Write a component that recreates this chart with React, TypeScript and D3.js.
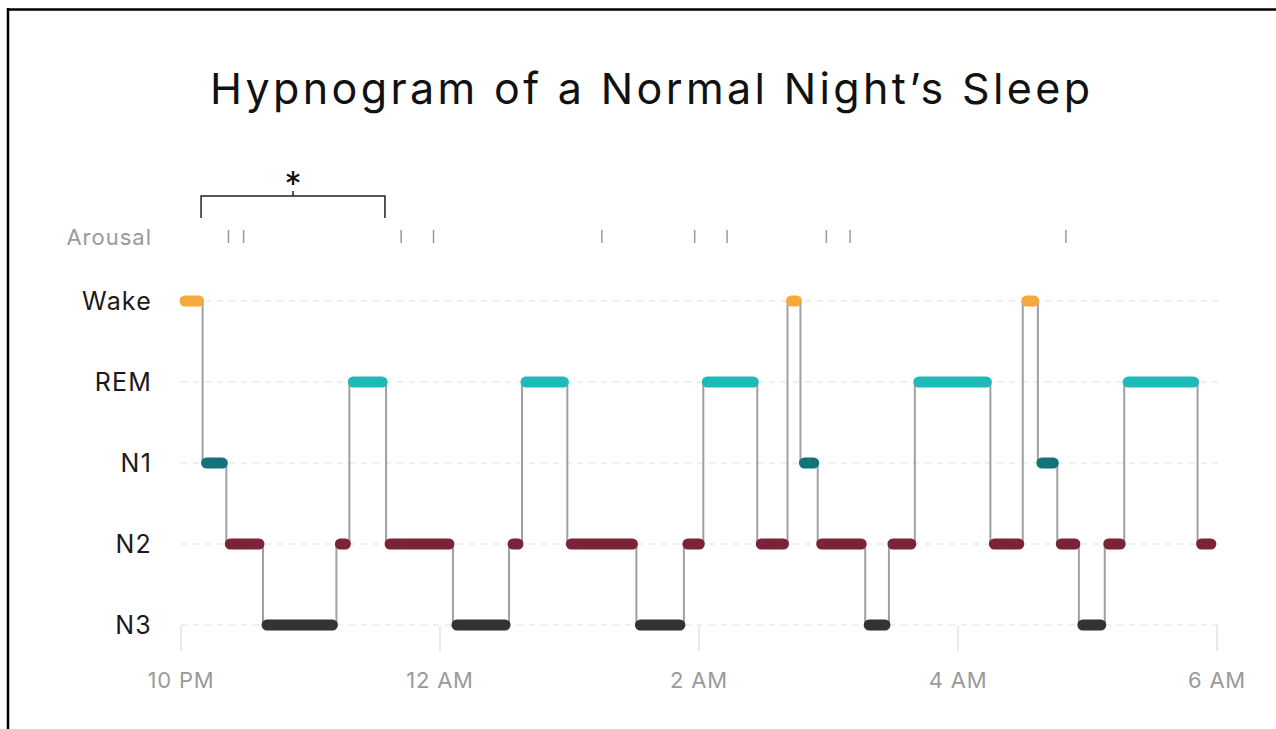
import React from "react"
import * as d3 from "d3"

// sleep stages, top to bottom
const stageNames = ["Wake", "REM", "N1", "N2", "N3"]
const stageColors = ["#F5A93B", "#1DBAB8", "#13737B", "#7B2339", "#333333"]

// hypnogram: stage of each segment and its start (minutes after 10 PM)
const segStages = ["Wake", "N1", "N2", "N3", "N2", "REM", "N2", "N3", "N2", "REM",
    "N2", "N3", "N2", "REM", "N2", "Wake", "N1", "N2", "N3", "N2",
    "REM", "N2", "Wake", "N1", "N2", "N3", "N2", "REM", "N2"]
const segStarts = [0, 10, 21, 38, 72, 78, 95, 126, 152, 158,
    179, 211, 233, 242, 267, 281, 287, 295, 317, 328,
    340, 375, 390, 397, 406, 416, 428, 437, 471]
const sleepEnd = 479

// arousal marks (minutes after 10 PM)
const arousals = [22, 29, 102, 117, 195, 238, 253, 299, 310, 410]

// bracket over the first cycle
const bracket = [9.3, 94.5]

const nightStart = new Date(2024, 0, 1, 22, 0)
const nightEnd = new Date(2024, 0, 2, 6, 0)
const atMin = (m: number) => new Date(nightStart.getTime() + m * 60000)

const W = 1276
const H = 729
const font = "Inter, Lato, 'DejaVu Sans', sans-serif"

const App = () => {
    const x = d3.scaleTime().domain([nightStart, nightEnd]).range([181, 1217])
    const y = d3.scalePoint<string>().domain(stageNames).range([301, 625])
    const color = d3.scaleOrdinal<string, string>().domain(stageNames).range(stageColors)
    const ticks = x.ticks(d3.timeHour.every(2) as any)
    const fmt = d3.timeFormat("%-I %p")

    const segs = segStages.map((s, i) => ({
        stage: s,
        x0: x(atMin(segStarts[i])),
        x1: x(atMin(i + 1 < segStarts.length ? segStarts[i + 1] : sleepEnd)),
    }))

    const bx0 = x(atMin(bracket[0]))
    const bx1 = x(atMin(bracket[1]))
    const bmid = (bx0 + bx1) / 2

    return (
        <svg width={W} height={H} style={{position: "absolute", left: 0, top: 0, background: "#fff"}}
             fontFamily={font}>
            <line x1={8} x2={W} y1={9.5} y2={9.5} stroke="#000" strokeWidth={2.5}/>
            <line x1={8} x2={8} y1={8} y2={H} stroke="#000" strokeWidth={2.5}/>

            <text x={650} y={104} textAnchor="middle" fontSize={43} fill="#111"
                  textLength={880} lengthAdjust="spacing">Hypnogram of a Normal Night’s Sleep</text>

            {/* bracket */}
            <path d={`M${bx0},218V196H${bx1}V218`} fill="none" stroke="#222" strokeWidth={1.5}/>
            <line x1={bmid} x2={bmid} y1={191} y2={196} stroke="#222" strokeWidth={1.5}/>
            <text x={bmid} y={196} textAnchor="middle" fontSize={34} fill="#111">*</text>

            {/* arousal */}
            <text x={152} y={245} textAnchor="end" fontSize={22} fill="#9a9a9a"
                  letterSpacing={1}>Arousal</text>
            {arousals.map((a, i) => (
                <line key={i} x1={x(atMin(a))} x2={x(atMin(a))} y1={230} y2={243}
                      stroke="#9a9a9a" strokeWidth={1.5}/>
            ))}

            {/* grid + stage labels */}
            {stageNames.map(s => (
                <g key={s}>
                    <line x1={181} x2={1218} y1={y(s)} y2={y(s)} stroke="#e0e0e0"
                          strokeWidth={1.2} strokeDasharray="6,6"/>
                    <text x={152} y={(y(s) as number) + 9} textAnchor="end" fontSize={25}
                          fill="#1a1a1a" letterSpacing={1.2}>{s}</text>
                </g>
            ))}

            {/* time axis */}
            {ticks.map((t, i) => (
                <g key={i}>
                    <line x1={x(t)} x2={x(t)} y1={626} y2={651} stroke="#dcdcdc" strokeWidth={1.2}/>
                    <text x={x(t)} y={688} textAnchor="middle" fontSize={22} fill="#9a9a9a"
                          letterSpacing={0.8}>{fmt(t)}</text>
                </g>
            ))}

            {/* connectors */}
            {segs.slice(1).map((sg, i) => (
                <line key={i} x1={sg.x0} x2={sg.x0} y1={y(segs[i].stage)} y2={y(sg.stage)}
                      stroke="#a0a0a0" strokeWidth={2}/>
            ))}

            {/* stage bars */}
            {segs.map((sg, i) => (
                <rect key={i} x={sg.x0 - 1.5} width={sg.x1 - sg.x0 + 3}
                      y={(y(sg.stage) as number) - 5.5} height={11} rx={5.5}
                      fill={color(sg.stage)}/>
            ))}
        </svg>
    )
}

export default App
